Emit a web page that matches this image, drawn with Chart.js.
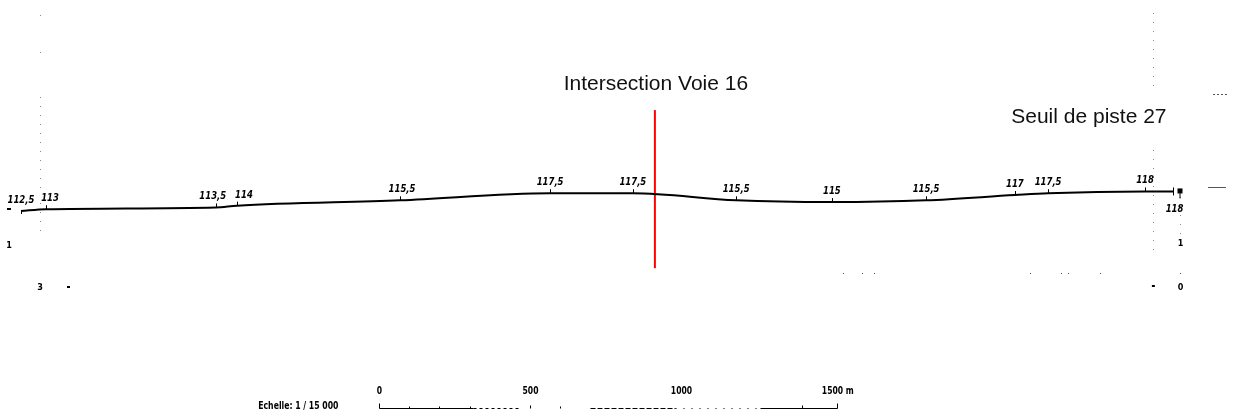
<!DOCTYPE html>
<html>
<head>
<meta charset="utf-8">
<script src="https://cdn.jsdelivr.net/npm/chart.js@4/dist/chart.umd.min.js"></script>
<style>
html,body{margin:0;padding:0;background:#fff;}
#wrap{width:1234px;height:412px;position:relative;}
</style>
</head>
<body>
<div id="wrap"><canvas id="c"></canvas></div>
<script>
// Runway longitudinal profile (distance along runway in m, elevation in m)
const distances = [0, 83, 645, 715, 1255, 1752, 2026, 2368, 2685, 2997, 3291, 3401, 3722, 3815];
const elevations = [112.5, 113, 113.5, 114, 115.5, 117.5, 117.5, 115.5, 115, 115.5, 117, 117.5, 118, 118];
const elevationLabels = ["112,5", "113", "113,5", "114", "115,5", "117,5", "117,5", "115,5", "115", "115,5", "117", "117,5", "118", ""];
const endElevationLabel = "118";
const intersectionDistance = 2099;
const intersectionLabel = "Intersection Voie 16";
const thresholdLabel = "Seuil de piste 27";
const redLineRange = [96.4, 140.9];
const scaleBarTicks = [0, 500, 1000, 1500];
const scaleBarUnit = "m";
const scaleText = "Echelle: 1 / 15 000";
const refLines = [63, 3748];

const NARROW = "'Liberation Sans Narrow','DejaVu Sans Condensed',sans-serif";
const LABEL_SHIFT = {1: 4, 2: -3, 3: 7, 4: 2};

const profileData = distances.map((d, i) => ({x: d, y: elevations[i]}));

function narrowText(ctx, txt, px, py, sx, align) {
  ctx.save();
  ctx.translate(px, py);
  ctx.scale(sx, 1);
  ctx.textAlign = align;
  ctx.fillText(txt, 0, 0);
  ctx.restore();
}

const decor = {
  id: 'decor',
  beforeDraw(chart) {
    const ctx = chart.ctx;
    ctx.save();
    ctx.fillStyle = '#fff';
    ctx.fillRect(0, 0, chart.width, chart.height);
    ctx.restore();
  },
  beforeDatasetsDraw(chart) {
    const {ctx, scales: {x}} = chart;
    const X = v => Math.round(x.getPixelForValue(v)) + 0.5;
    ctx.save();
    ctx.strokeStyle = '#888';
    ctx.lineWidth = 1;
    ctx.setLineDash([1, 8]);
    const seg = (px, y0, y1) => { ctx.beginPath(); ctx.moveTo(px, y0); ctx.lineTo(px, y1); ctx.stroke(); };
    const lx = X(refLines[0]);
    seg(lx, 15, 16); seg(lx, 52, 53);
    seg(lx, 97, 192); seg(lx, 203, 233);
    const rx = X(refLines[1]);
    seg(rx, 13, 90); seg(rx, 150, 252);
    const ex = X(distances[distances.length - 1]) + 7;
    seg(ex, 197, 234);
    ctx.setLineDash([]);
    ctx.restore();
  },
  afterDatasetsDraw(chart) {
    const {ctx, scales: {x, y}} = chart;
    const X = v => x.getPixelForValue(v);
    const Y = v => y.getPixelForValue(v);
    ctx.save();
    ctx.fillStyle = '#000';
    ctx.strokeStyle = '#000';
    ctx.lineWidth = 1;
    ctx.font = "italic bold 10.5px " + NARROW;
    ctx.textBaseline = 'alphabetic';
    distances.forEach((d, i) => {
      const px = Math.round(X(d)) + 0.5, py = Y(elevations[i]);
      if (i === 0) {
        ctx.beginPath(); ctx.moveTo(px, py - 1); ctx.lineTo(px, py + 3); ctx.stroke();
      } else if (i < distances.length - 1) {
        ctx.beginPath(); ctx.moveTo(px, py - 4); ctx.lineTo(px, py); ctx.stroke();
      }
      if (elevationLabels[i]) narrowText(ctx, elevationLabels[i], X(d) + (LABEL_SHIFT[i] || 0), py - 8, 0.9, 'center');
    });
    const last = distances.length - 1;
    const endX = Math.round(X(distances[last])) + 0.5;
    const endY = Y(elevations[last]);
    ctx.beginPath(); ctx.moveTo(endX, endY - 4); ctx.lineTo(endX, endY + 4); ctx.stroke();
    ctx.fillRect(endX + 4, endY - 3, 5, 5);
    ctx.beginPath(); ctx.moveTo(endX + 6.5, endY); ctx.lineTo(endX + 6.5, endY + 7); ctx.stroke();
    narrowText(ctx, endElevationLabel, endX + 1, endY + 21, 0.9, 'center');
    ctx.lineWidth = 2;
    ctx.beginPath(); ctx.moveTo(X(distances[0]) - 14, Y(elevations[0]) - 2); ctx.lineTo(X(distances[0]) - 10, Y(elevations[0]) - 2); ctx.stroke();

    ctx.font = "21px 'Liberation Sans', Arial, sans-serif";
    ctx.fillStyle = '#111';
    ctx.textAlign = 'center';
    ctx.fillText(intersectionLabel, X(intersectionDistance) + 1, 90);
    ctx.textAlign = 'right';
    ctx.fillText(thresholdLabel, endX - 7, 123);

    ctx.fillStyle = '#000';
    ctx.font = "bold 9px " + NARROW;
    ctx.textAlign = 'center';
    ctx.fillText("1", 9, 248);
    ctx.fillText("3", X(refLines[0]), 290);
    ctx.fillText("1", endX + 7, 246);
    ctx.fillText("0", endX + 7, 290);
    ctx.fillRect(67, 286, 3, 2);
    ctx.fillRect(X(refLines[1]) - 1, 285, 3, 2);
    ctx.fillStyle = '#555';
    [843, 862, 874, 1030, 1061, 1068, 1100, 1180].forEach(px => ctx.fillRect(px, 273, 1, 1));
    ctx.fillRect(1208, 187, 18, 1);
    [1213, 1217, 1221, 1225].forEach(px => ctx.fillRect(px, 94, 2, 1));

    // scale bar
    const m0 = x.getValueForPixel(379);
    const S = v => Math.round(X(m0 + v)) + 0.5;
    const barY = 408.5;
    ctx.strokeStyle = '#000';
    ctx.fillStyle = '#000';
    ctx.lineWidth = 1;
    const line = (a, b) => { ctx.beginPath(); ctx.moveTo(S(a), barY); ctx.lineTo(S(b), barY); ctx.stroke(); };
    const barEnd = scaleBarTicks[scaleBarTicks.length - 1] + 15;
    line(0, 310);
    line(1260, barEnd);
    ctx.setLineDash([3, 3]); line(310, 460);
    ctx.setLineDash([5, 2]); line(700, 980);
    ctx.setLineDash([1, 7]); line(980, 1260);
    ctx.setLineDash([]);
    const tick = (v, h) => { ctx.beginPath(); ctx.moveTo(S(v), barY); ctx.lineTo(S(v), barY - h); ctx.stroke(); };
    tick(0, 5); tick(100, 2); tick(200, 2); tick(300, 2); tick(500, 3); tick(600, 2);
    tick(1400, 3); tick(barEnd, 5);
    ctx.font = "bold 10px " + NARROW;
    ctx.textBaseline = 'middle';
    scaleBarTicks.forEach((t, i) => {
      narrowText(ctx, String(t), S(t), 391, 0.85, 'center');
      if (i === scaleBarTicks.length - 1) {
        const w = ctx.measureText(String(t)).width * 0.85;
        narrowText(ctx, " " + scaleBarUnit, S(t) + w / 2, 391, 0.85, 'left');
      }
    });
    ctx.font = "bold 10.5px " + NARROW;
    narrowText(ctx, scaleText, S(0) - 41, 406, 0.82, 'right');
    ctx.restore();
  }
};

new Chart(document.getElementById('c'), {
  type: 'line',
  data: {
    datasets: [
      {
        data: profileData,
        borderColor: '#000',
        borderWidth: 2,
        pointRadius: 0,
        cubicInterpolationMode: 'monotone',
        fill: false
      },
      {
        data: [{x: intersectionDistance, y: redLineRange[0]}, {x: intersectionDistance, y: redLineRange[1]}],
        borderColor: '#ff0000',
        borderWidth: 2,
        pointRadius: 0,
        fill: false
      }
    ]
  },
  options: {
    responsive: true,
    maintainAspectRatio: false,
    animation: false,
    layout: {padding: 0},
    plugins: {legend: {display: false}, tooltip: {enabled: false}},
    scales: {
      x: {type: 'linear', min: -69.5, max: 4016.6, display: false},
      y: {min: 55.9, max: 171.9, display: false}
    }
  },
  plugins: [decor]
});
</script>
</body>
</html>
